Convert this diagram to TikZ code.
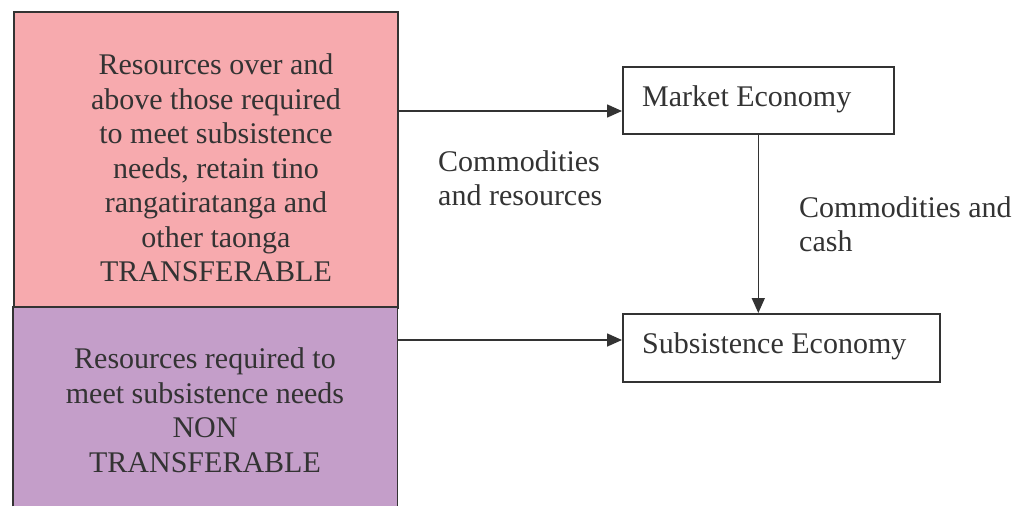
\documentclass[tikz,border=0pt]{standalone}
\usepackage{fontspec}
\setmainfont{Liberation Serif}
\usetikzlibrary{arrows.meta}
\definecolor{pinkfill}{HTML}{F7AAAE}
\definecolor{purplefill}{HTML}{C49EC9}
\definecolor{ink}{HTML}{333333}
\begin{document}
\begin{tikzpicture}[x=1pt,y=-1pt,
  every node/.style={inner sep=0pt, text=ink},
  txt/.style={font=\fontsize{30}{34.5}\selectfont, align=center},
  lbl/.style={font=\fontsize{30}{34.5}\selectfont, align=left, anchor=west},
  ebox/.style={draw=ink, line width=1.6pt, fill=white, font=\fontsize{30}{34.5}\selectfont},
  conn/.style={draw=ink, line width=1.6pt, -{Triangle[length=15pt,width=13pt]}}]
\useasboundingbox (0,0) rectangle (1017,506);
% left boxes
\node[fill=pinkfill, draw=ink, line width=1.6pt, minimum width=384pt, minimum height=296pt, anchor=north west] (pink) at (13,11) {};
\node[fill=purplefill, minimum width=384pt, minimum height=199pt, anchor=north west] (purple) at (13,307) {};
\draw[ink, line width=1.6pt] (purple.south west) -- (purple.north west) -- (purple.north east) -- (purple.south east);
\node[txt] (pinktext) at (216,168) {Resources over and\\above those required\\to meet subsistence\\needs, retain tino\\rangatiratanga and\\other taonga\\TRANSFERABLE};
\node[txt] (purpletext) at (205,410) {Resources required to\\meet subsistence needs\\NON\\TRANSFERABLE};
% right boxes
\node[ebox, minimum width=271pt, minimum height=67pt, anchor=north west] (market) at (622,66) {};
\node[font=\fontsize{30}{34.5}\selectfont, anchor=west] (markettext) at (642,99) {Market Economy};
\node[ebox, minimum width=317pt, minimum height=68pt, anchor=north west] (subs) at (622,313) {};
\node[font=\fontsize{30}{34.5}\selectfont, anchor=west] (substext) at (642,346) {Subsistence Economy};
% connectors
\coordinate (a1) at (pink.east |- 0,111);
\coordinate (a2) at (purple.east |- 0,340);
\draw[conn] (a1) -- (market.west |- a1);
\draw[conn] (a2) -- (subs.west |- a2);
\draw[conn] (market.south) -- (market.south |- subs.north);
% labels
\node[lbl] (l1) at (438,178) {Commodities\\and resources};
\node[lbl] (l2) at (799,224) {Commodities and\\cash};
\end{tikzpicture}
\end{document}
